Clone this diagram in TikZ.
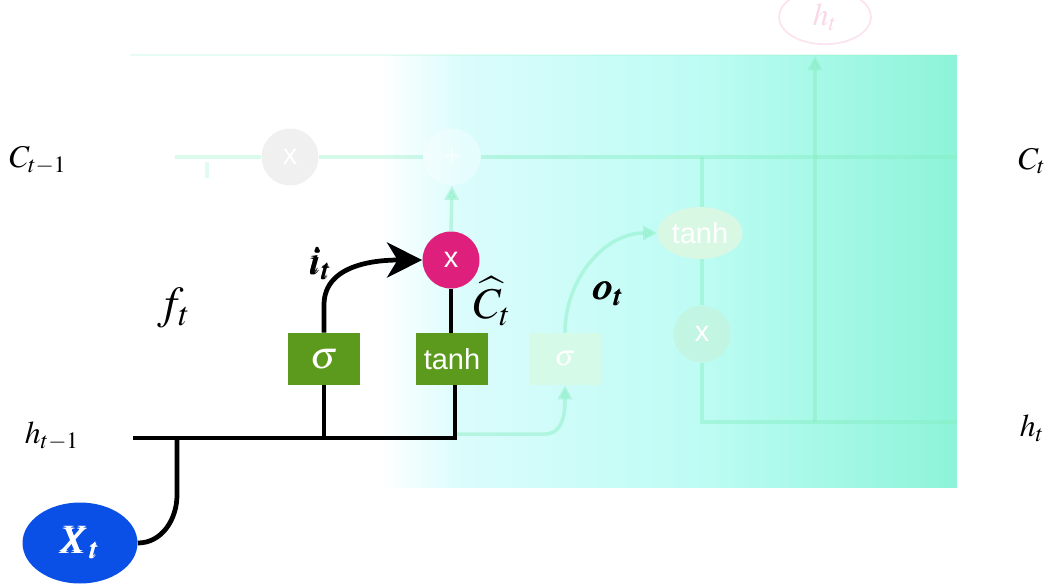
\documentclass[tikz,border=0pt]{standalone}
\usepackage{mathptmx}
\usepackage{bm}
\usepackage{fontspec}
\usepackage{amsmath}
\newfontfamily\sansf{Liberation Sans}
\usetikzlibrary{arrows.meta,shapes.geometric}
\definecolor{gatebox}{HTML}{5B9A1C}
\definecolor{pinkx}{HTML}{DE1F7B}
\definecolor{xblue}{HTML}{0A4FE6}
\definecolor{bgA}{HTML}{DBFCFC}
\definecolor{bgB}{HTML}{BDFCF4}
\definecolor{bgC}{HTML}{8CF4D8}
\definecolor{fadeln}{HTML}{86EEC0}
\definecolor{fadebox}{HTML}{D6FAE8}
\definecolor{fadeell}{HTML}{D8F8E4}
\definecolor{fadecx}{HTML}{C4F4DF}
\tikzset{
  mainline/.style={draw=black, line width=2.7pt},
  fadeline/.style={draw=fadeln, line width=2pt, opacity=0.45},
  gatenode/.style={rectangle, fill=gatebox, text=white, minimum width=1.44cm, minimum height=1.04cm, inner sep=0pt, font=\sansf\fontsize{16.5}{19}\selectfont},
  fgatenode/.style={gatenode, fill=fadebox},
  xnode/.style={circle, fill=pinkx, text=white, minimum size=1.14cm, inner sep=0pt, font=\sansf\fontsize{16.5}{19}\selectfont},
  fxnode/.style={xnode, fill=black!6},
  lbl/.style={inner sep=0pt, font=\fontsize{18}{22}\selectfont},
  biglbl/.style={inner sep=0pt, font=\fontsize{22}{26}\selectfont},
  fadetip/.style={-{Triangle[length=8pt,width=8pt]}}
}
\begin{document}
\begin{tikzpicture}[x=0.02cm,y=-0.02cm]
\useasboundingbox (0,0) rectangle (1054,585);
% background
\shade[left color=white, right color=bgA] (380,55) rectangle (462,487);
\shade[left color=bgA, right color=bgB] (460,55) rectangle (702,487);
\shade[left color=bgB, right color=bgC] (700,55) rectangle (957,487);
\draw[draw=fadeln, opacity=0.2, line width=1pt] (130,55) -- (957,55);

% faded parts
\node[fxnode] (fx) at (290,157) {x};
\node[xnode, fill=white, opacity=0.35, text opacity=0.6] (plus) at (452,157) {+};
\coordinate (cl) at (175,157);
\coordinate (cr) at (957,157);
\draw[fadeline, opacity=0.3] (cl) -- (fx.west);
\draw[fadeline, opacity=0.35] (fx.east) -- (plus.west);
\draw[fadeline] (plus.east) -- (cr);
\coordinate (ftop) at (207,162);
\coordinate (fbot) at (207,178);
\draw[fadeline, opacity=0.25] (ftop) -- (fbot);

\node[fgatenode] (fsig) at (565,359) {$\sigma$};
\node[ellipse, fill=fadeell, text=white, minimum width=1.7cm, minimum height=1.04cm, inner sep=0pt, font=\sansf\fontsize{16.5}{19}\selectfont] (ftanh) at (700,233) {tanh};
\node[fxnode, fill=fadecx, opacity=0.8, text opacity=1] (ox) at (702,334) {x};
\node[ellipse, draw=pinkx!12, line width=1pt, text=pinkx!18, minimum width=1.84cm, minimum height=1.0cm, font=\fontsize{18}{20}\selectfont] (ht) at (825,17) {$h_t$};

\coordinate (hv) at (702,422);
\coordinate (hr) at (957,422);
\coordinate (hu) at (815,422);
\coordinate (cv) at (702,157);
\draw[fadeline] (cv) -- (ftanh.north -| cv);
\draw[fadeline] (ftanh.south -| cv) -- (ox.north);
\draw[fadeline] (ox.south) -- (hv) -- (hr);
\draw[fadeline, fadetip] (hu) -- (815,56);
\coordinate (hj) at (455,434);
\draw[fadeline, fadetip] (hj) -- (545,434) to[out=0,in=-90] (fsig.south);
\draw[fadeline, fadetip] (fsig.north) to[out=90,in=180] (ftanh.west);

% main gates
\node[gatenode] (sig) at (324,359) {\fontsize{22}{24}\selectfont$\sigma$};
\node[gatenode] (tanh) at (452,359) {tanh};
\node[xnode] (mx) at (451,260) {x};
\draw[fadeline, fadetip] (mx.north) -- (plus.south);

\node[ellipse, fill=xblue, text=white, minimum width=2.3cm, minimum height=1.62cm, inner sep=0pt, font=\fontsize{22}{26}\selectfont] (X) at (80,543) {$\bm{X_t}$};

\coordinate (hin) at (133,438);
\coordinate (jx) at (177,438);
\coordinate (js) at (324,438);
\coordinate (jt) at (455,438);
\draw[mainline] (hin) -- (jt) -- (tanh.south -| jt);
\draw[mainline] (js) -- (sig.south);
\draw[mainline] (jx) -- (177,495) to[out=-90,in=0] (X.east);
\draw[mainline] (tanh.north -| mx) -- (mx.south);
\draw[mainline, -{Stealth[length=20pt,width=20pt,inset=6pt]}] (sig.north) -- (324,305) to[out=90,in=180] (mx.west);

% labels
\node[lbl] (lC0) at (38,160) {$C_{t-1}$};
\node[lbl] (lh0) at (52,436) {$h_{t-1}$};
\node[lbl] (lC1) at (1032,161) {$C_t$};
\node[lbl] (lh1) at (1032,428) {$h_t$};
\node[biglbl, font=\fontsize{26}{30}\selectfont] (lf) at (174,308) {$f_t$};
\node[biglbl] (li) at (320,264) {$\bm{i_t}$};
\node[biglbl] (lo) at (608,294) {$\bm{o_t}$};
\node[biglbl, font=\fontsize{25}{30}\selectfont] (lct) at (492,301) {$\widehat{C_t}$};
\end{tikzpicture}
\end{document}
